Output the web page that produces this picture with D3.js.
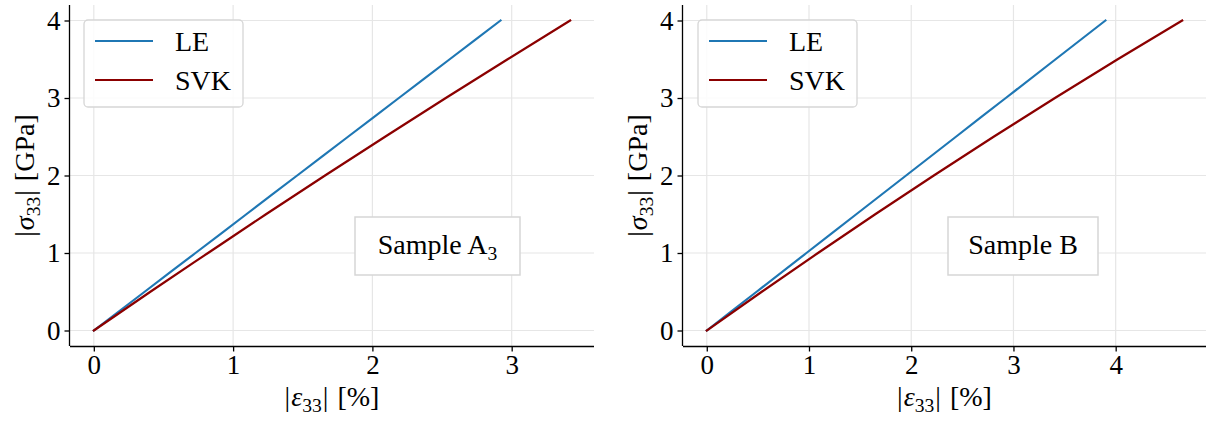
<!DOCTYPE html>
<html>
<head>
<meta charset="utf-8">
<script src="https://cdn.jsdelivr.net/npm/d3@7"></script>
<style>
  html, body { margin: 0; padding: 0; background: #fff; }
  svg { display: block; }
  text { font-family: "Liberation Serif", "DejaVu Serif", serif; fill: #000; }
</style>
</head>
<body>
<svg id="chart" width="1206" height="423"></svg>
<script>
// ---------------- data ----------------
const stressLevels = [0, 0.5, 1, 1.5, 2, 2.5, 3, 3.5, 4];          // |sigma_33| [GPa]

// Sample A3
const strainA_LE  = [0, 0.365, 0.73, 1.095, 1.46, 1.825, 2.19, 2.555, 2.92];   // |eps_33| [%]
const strainA_SVK = [0, 0.406, 0.82, 1.236, 1.66, 2.091, 2.527, 2.971, 3.42];

// Sample B
const strainB_LE  = [0, 0.4875, 0.975, 1.4625, 1.95, 2.4375, 2.925, 3.4125, 3.90];
const strainB_SVK = [0, 0.538, 1.088, 1.648, 2.221, 2.806, 3.406, 4.02, 4.651];

const seriesNames = ["LE", "SVK"];
const xTicksA = [0, 1, 2, 3];
const xTicksB = [0, 1, 2, 3, 4];
const yTicks  = [0, 1, 2, 3, 4];
const sampleLabelA = [{t: "Sample A"}, {t: "3", sub: true}];
const sampleLabelB = [{t: "Sample B"}];

// ---------------- style ----------------
const colors = {LE: "#1f77b4", SVK: "#8b0000"};
const FS = 27;
const LFS = 28;
const svg = d3.select("#chart");

function richText(sel, parts, fs) {
  parts.forEach(p => {
    const ts = sel.append("tspan").text(p.t);
    if (p.italic) ts.style("font-style", "italic");
    if (p.sub) {
      ts.attr("font-size", fs * 0.7).attr("dy", fs * 0.22);
    } else if (p.after) {
      ts.attr("dy", -fs * 0.22);
    }
    if (p.dx) ts.attr("dx", p.dx);
  });
}

const yLabelParts = [{t: "|"}, {t: "σ", italic: true, dx: 1}, {t: "33", sub: true}, {t: "|", after: true, dx: 1}, {t: "[GPa]", dx: 9}];
const xLabelParts = [{t: "|"}, {t: "ε", italic: true, dx: 1}, {t: "33", sub: true}, {t: "|", after: true, dx: 1}, {t: "[%]", dx: 9}];

function margin5(max) { const m = 0.05 * max; return [-m, max + m]; }

function panel(cfg) {
  const g = svg.append("g");
  const xMax = d3.max(cfg.svk.concat(cfg.le));
  const yMax = d3.max(stressLevels);
  const x = d3.scaleLinear().domain(margin5(xMax)).range([cfg.x0, cfg.x1]);
  const y = d3.scaleLinear().domain(margin5(yMax)).range([cfg.y1, cfg.y0]);

  // grid
  g.append("g").selectAll("line").data(cfg.xTicks).join("line")
    .attr("x1", d => x(d)).attr("x2", d => x(d))
    .attr("y1", cfg.y0).attr("y2", cfg.y1)
    .attr("stroke", "#e6e6e6").attr("stroke-width", 1.2);
  g.append("g").selectAll("line").data(yTicks).join("line")
    .attr("x1", cfg.x0).attr("x2", cfg.x1)
    .attr("y1", d => y(d)).attr("y2", d => y(d))
    .attr("stroke", "#e6e6e6").attr("stroke-width", 1.2);

  // lines
  const line = d3.line().x(d => x(d[0])).y(d => y(d[1])).curve(d3.curveMonotoneX);
  [["LE", cfg.le], ["SVK", cfg.svk]].forEach(([name, arr]) => {
    g.append("path")
      .datum(arr.map((e, i) => [e, stressLevels[i]]))
      .attr("d", line).attr("fill", "none")
      .attr("stroke", colors[name]).attr("stroke-width", 2.2)
      .attr("stroke-linejoin", "round").attr("stroke-linecap", "square");
  });

  // axes
  const xAxis = d3.axisBottom(x).tickValues(cfg.xTicks).tickFormat(d3.format("d"))
    .tickSize(5.5).tickPadding(3);
  const yAxis = d3.axisLeft(y).tickValues(yTicks).tickFormat(d3.format("d"))
    .tickSize(5.5).tickPadding(4);
  const gx = g.append("g").attr("transform", `translate(0,${cfg.y1})`).call(xAxis);
  const gy = g.append("g").attr("transform", `translate(${cfg.x0},0)`).call(yAxis);
  [gx, gy].forEach(a => {
    a.select(".domain").attr("stroke", "#000").attr("stroke-width", 1.3);
    a.selectAll(".tick line").attr("stroke", "#000").attr("stroke-width", 1.3);
    a.selectAll(".tick text").attr("font-size", FS)
      .attr("font-family", "Liberation Serif, DejaVu Serif, serif").attr("fill", "#000");
  });
  gx.select(".domain").attr("d", `M${cfg.x0},0.5H${cfg.x1}`);
  gy.select(".domain").attr("d", `M-0.5,${cfg.y0}V${cfg.y1}`);

  // axis labels
  const xl = g.append("text").attr("x", (cfg.x0 + cfg.x1) / 2).attr("y", 406)
    .attr("text-anchor", "middle").attr("font-size", LFS);
  richText(xl, xLabelParts, LFS);
  const yl = g.append("text")
    .attr("transform", `translate(${cfg.x0 - 36},${(cfg.y0 + cfg.y1) / 2}) rotate(-90)`)
    .attr("text-anchor", "middle").attr("font-size", LFS);
  richText(yl, yLabelParts, LFS);

  // legend
  const L = cfg.legend;
  g.append("rect").attr("x", L.x).attr("y", L.y).attr("width", 159).attr("height", 87)
    .attr("rx", 4).attr("fill", "#fff").attr("fill-opacity", 0.85)
    .attr("stroke", "#d6d6d6").attr("stroke-width", 1.3);
  seriesNames.forEach((name, i) => {
    const ly = L.y + 21 + i * 39;
    g.append("line").attr("x1", L.x + 11).attr("x2", L.x + 69)
      .attr("y1", ly).attr("y2", ly)
      .attr("stroke", colors[name]).attr("stroke-width", 2.2);
    g.append("text").attr("x", L.x + 91).attr("y", ly + 10)
      .attr("font-size", LFS).text(name);
  });

  // sample box
  const S = cfg.sample;
  g.append("rect").attr("x", S.x).attr("y", S.y).attr("width", S.w).attr("height", 58)
    .attr("fill", "#fff").attr("stroke", "#d6d6d6").attr("stroke-width", 1.5);
  const st = g.append("text").attr("x", S.x + S.w / 2).attr("y", S.y + 37)
    .attr("text-anchor", "middle").attr("font-size", LFS);
  richText(st, S.parts, LFS);
}

panel({
  x0: 70, x1: 594, y0: 5, y1: 346,
  le: strainA_LE, svk: strainA_SVK, xTicks: xTicksA,
  legend: {x: 84, y: 20},
  sample: {x: 355, y: 217, w: 165, parts: sampleLabelA}
});
panel({
  x0: 683, x1: 1206, y0: 5, y1: 346,
  le: strainB_LE, svk: strainB_SVK, xTicks: xTicksB,
  legend: {x: 698, y: 20},
  sample: {x: 948, y: 217, w: 150, parts: sampleLabelB}
});
</script>
</body>
</html>
